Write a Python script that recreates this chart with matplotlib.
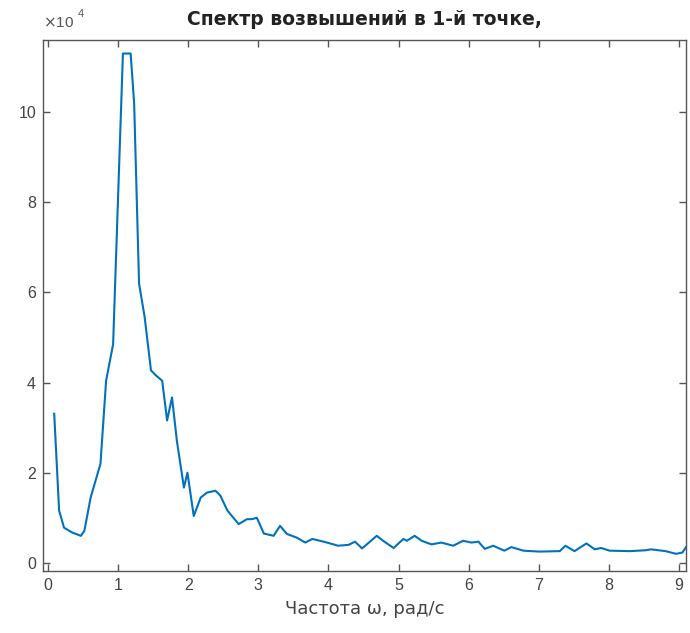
import matplotlib
matplotlib.use("Agg")
import matplotlib.pyplot as plt
import numpy as np

# frequency (rad/s)
omega = [0.09, 0.16, 0.23, 0.35, 0.47, 0.52, 0.61, 0.75, 0.83, 0.93,
         1.07, 1.18, 1.23, 1.30, 1.38, 1.47, 1.54, 1.63, 1.70, 1.77, 1.84, 1.94,
         1.99, 2.08, 2.18, 2.27, 2.39, 2.46, 2.56, 2.72, 2.84, 2.91, 2.98, 3.08,
         3.22, 3.31, 3.41, 3.55, 3.67, 3.77, 3.88, 3.98, 4.14, 4.29, 4.38, 4.48,
         4.69, 4.78, 4.93, 5.07, 5.12, 5.23, 5.33, 5.47, 5.61, 5.78, 5.92, 6.04,
         6.14, 6.23, 6.35, 6.51, 6.61, 6.78, 7.01, 7.30, 7.38, 7.51, 7.68, 7.80,
         7.89, 8.01, 8.30, 8.53, 8.60, 8.81, 8.96, 9.05, 9.10]
# spectrum values (x 1e4)
spec = [3.31, 1.16, 0.78, 0.67, 0.60, 0.71, 1.45, 2.20, 4.04, 4.85,
        11.30, 11.30, 10.20, 6.20, 5.45, 4.27, 4.16, 4.04, 3.16, 3.67, 2.70, 1.67,
        2.00, 1.04, 1.45, 1.56, 1.60, 1.49, 1.16, 0.86, 0.97, 0.97, 1.00, 0.65,
        0.60, 0.82, 0.64, 0.56, 0.45, 0.53, 0.49, 0.45, 0.38, 0.40, 0.47, 0.32,
        0.60, 0.49, 0.33, 0.53, 0.49, 0.60, 0.49, 0.41, 0.45, 0.38, 0.49, 0.45,
        0.47, 0.31, 0.38, 0.27, 0.35, 0.27, 0.25, 0.26, 0.38, 0.26, 0.43, 0.30,
        0.33, 0.27, 0.26, 0.28, 0.30, 0.26, 0.20, 0.23, 0.35]
xticks = [0, 1, 2, 3, 4, 5, 6, 7, 8, 9]
yticks = [0, 2, 4, 6, 8, 10]

title = "Спектр возвышений в 1-й точке,"
xlabel = "Частота ω, рад/с"

plt.rcParams['font.family'] = ['Liberation Sans', 'DejaVu Sans']

fig = plt.figure(figsize=(6.9, 6.33), dpi=100)
ax = fig.add_axes([0.0623, 0.098, 0.9319, 0.8388])

ax.plot(omega, spec, color='#0072BD', lw=1.5)
ax.set_xlim(-0.07, 9.1)
ax.set_ylim(-0.18, 11.6)
ax.set_xticks(xticks)
ax.set_yticks(yticks)

axcol = '#555555'
for s in ax.spines.values():
    s.set_color(axcol)
    s.set_linewidth(1.0)
ax.tick_params(direction='in', top=True, right=True, length=5, width=1,
               colors=axcol, labelsize=11.5, labelcolor='#444444', pad=5)

ax.set_title(title, fontsize=13.5, color='#222222', pad=11,
             family=['DejaVu Sans'], fontweight='bold')
ax.set_xlabel(xlabel, fontsize=13, color='#444444', labelpad=5,
              family=['DejaVu Sans'])

ax.text(0.0, 1.018, r"$\times$10", transform=ax.transAxes, fontsize=11,
        color='#555555', ha='left', va='bottom')
ax.text(0.054, 1.040, "4", transform=ax.transAxes, fontsize=8,
        color='#555555', ha='left', va='bottom')

fig.savefig("out.png", dpi=100, facecolor='white')
